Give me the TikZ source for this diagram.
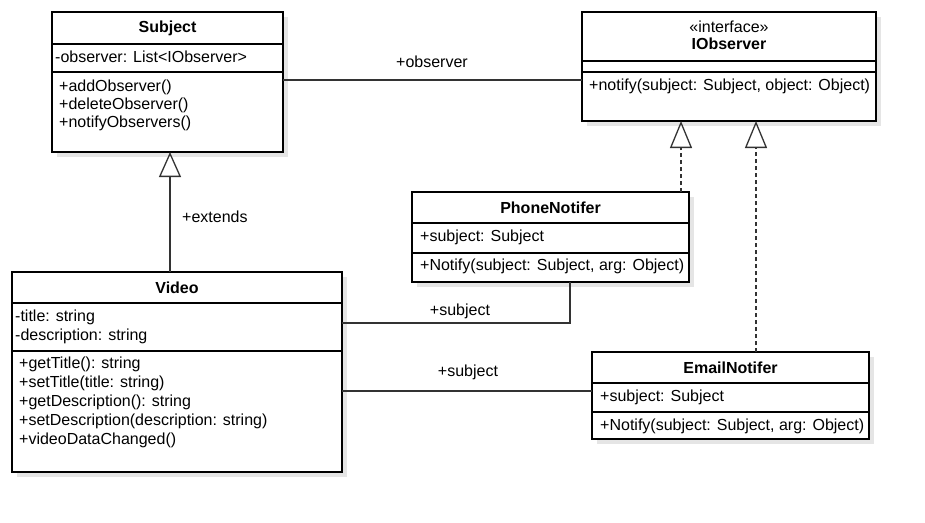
\documentclass[tikz,border=0pt]{standalone}
\usepackage{fontspec}
\setmainfont{Liberation Sans}
\usetikzlibrary{arrows.meta,shadows}
\begin{document}
\begin{tikzpicture}[x=1pt,y=-1pt,
  cls/.style={draw=black, line width=1.1pt, fill=white, anchor=north west, inner sep=0pt, outer sep=0pt,
    drop shadow={shadow xshift=5pt, shadow yshift=-5pt, fill=black!10, opacity=1}},
  sep/.style={draw=black, line width=1.1pt},
  txt/.style={anchor=west, inner sep=0pt, font=\fontsize{16}{19}\selectfont},
  ttl/.style={anchor=center, inner sep=0pt, font=\fontsize{16}{19}\selectfont\bfseries},
  lbl/.style={anchor=center, inner sep=0pt, font=\fontsize{16}{19}\selectfont},
  con/.style={draw=black!80, line width=1.3pt},
  inh/.style={con, -{Triangle[open, length=25pt, width=22pt, line width=1.3pt]}},
  real/.style={con, dash pattern=on 4pt off 3pt, -{Triangle[open, length=27pt, width=22pt, line width=1.3pt]}}
]
\fill[white] (0,0) rectangle (925,522);
\useasboundingbox (0,0) rectangle (925,522);

% Subject
\node[cls, minimum width=231pt, minimum height=140pt] (subject) at (52,12) {};
\draw[sep] (subject.west |- 0,44) -- (subject.east |- 0,44);
\draw[sep] (subject.west |- 0,72) -- (subject.east |- 0,72);
\node[ttl] (subjectT) at (subject.north |- 0,28) {Subject};
\node[txt] (subjectA) at (55,57) {-observer: List<IObserver>};
\node[txt] (subjectM1) at (59,87) {+addObserver()};
\node[txt] (subjectM2) at (59,105) {+deleteObserver()};
\node[txt] (subjectM3) at (59,123) {+notifyObservers()};

% IObserver
\node[cls, minimum width=294pt, minimum height=109pt] (iobs) at (582,12) {};
\draw[sep] (iobs.west |- 0,61) -- (iobs.east |- 0,61);
\draw[sep] (iobs.west |- 0,72) -- (iobs.east |- 0,72);
\node[lbl] (iobsS) at (iobs.north |- 0,27) {«interface»};
\node[ttl] (iobsT) at (iobs.north |- 0,44) {IObserver};
\node[txt] (iobsM) at (589,86) {+notify(subject: Subject, object: Object)};

% PhoneNotifer
\node[cls, minimum width=277pt, minimum height=90pt] (phone) at (412,192) {};
\draw[sep] (phone.west |- 0,223) -- (phone.east |- 0,223);
\draw[sep] (phone.west |- 0,253) -- (phone.east |- 0,253);
\node[ttl] (phoneT) at (phone.north |- 0,208) {PhoneNotifer};
\node[txt] (phoneA) at (420,237) {+subject: Subject};
\node[txt] (phoneM) at (420,266) {+Notify(subject: Subject, arg: Object)};

% EmailNotifer
\node[cls, minimum width=277pt, minimum height=87pt] (email) at (592,352) {};
\draw[sep] (email.west |- 0,383) -- (email.east |- 0,383);
\draw[sep] (email.west |- 0,412) -- (email.east |- 0,412);
\node[ttl] (emailT) at (email.north |- 0,368) {EmailNotifer};
\node[txt] (emailA) at (600,397) {+subject: Subject};
\node[txt] (emailM) at (600,426) {+Notify(subject: Subject, arg: Object)};

% Video
\node[cls, minimum width=330pt, minimum height=200pt] (video) at (12,272) {};
\draw[sep] (video.west |- 0,303) -- (video.east |- 0,303);
\draw[sep] (video.west |- 0,351) -- (video.east |- 0,351);
\node[ttl] (videoT) at (video.north |- 0,288) {Video};
\node[txt] (videoA1) at (15,317) {-title: string};
\node[txt] (videoA2) at (15,336) {-description: string};
\node[txt] (videoM1) at (19,364) {+getTitle(): string};
\node[txt] (videoM2) at (19,383) {+setTitle(title: string)};
\node[txt] (videoM3) at (19,402) {+getDescription(): string};
\node[txt] (videoM4) at (19,421) {+setDescription(description: string)};
\node[txt] (videoM5) at (19,440) {+videoDataChanged()};

% connectors
\draw[con] (subject.east |- 0,80) -- (iobs.west |- 0,80);
\node[lbl] (obsL) at (432,62) {+observer};

\draw[inh] (170,0 |- video.north) -- (170,0 |- subject.south);
\node[txt] (extL) at (182,217) {+extends};

\draw[real] (681,0 |- phone.north) -- (681,0 |- iobs.south);
\draw[real] (756,0 |- email.north) -- (756,0 |- iobs.south);

\draw[con] (video.east |- 0,323) -| (570,0 |- phone.south);
\node[lbl] (sub1L) at (460,311) {+subject};

\draw[con] (video.east |- 0,391) -- (email.west |- 0,391);
\node[lbl] (sub2L) at (468,372) {+subject};
\end{tikzpicture}
\end{document}
